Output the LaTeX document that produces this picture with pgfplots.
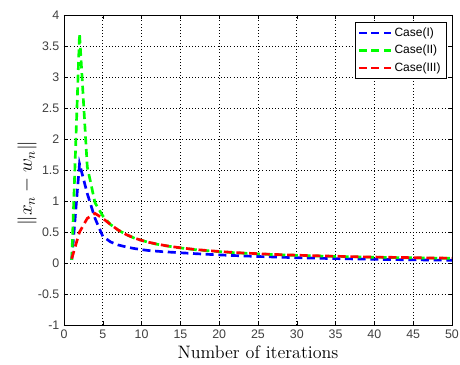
\documentclass[border=0pt]{standalone}
\usepackage{fontspec}
\setsansfont{Liberation Sans}
\usepackage{pgfplots}
\usepackage{pgfplotstable}
\pgfplotsset{compat=1.18}

\pgfplotstableread{
n  a      b      c
1  0.05   0.05   0.07
2  1.60   3.70   0.50
3  1.12   1.55   0.72
4  0.72   0.97   0.80
5  0.43   0.76   0.72
6  0.34   0.62   0.62
7  0.29   0.53   0.53
8  0.26   0.46   0.46
9  0.235  0.405  0.405
10 0.215  0.365  0.365
11 0.200  0.330  0.332
12 0.190  0.302  0.305
13 0.180  0.280  0.282
14 0.173  0.260  0.262
15 0.165  0.243  0.246
16 0.158  0.228  0.231
17 0.150  0.214  0.217
18 0.143  0.203  0.206
19 0.137  0.193  0.196
20 0.131  0.183  0.186
21 0.125  0.174  0.177
22 0.120  0.166  0.169
23 0.115  0.159  0.162
24 0.110  0.153  0.156
25 0.105  0.147  0.150
26 0.101  0.141  0.144
27 0.097  0.136  0.139
28 0.093  0.131  0.134
29 0.089  0.127  0.130
30 0.085  0.123  0.126
31 0.082  0.119  0.122
32 0.079  0.115  0.118
33 0.076  0.112  0.115
34 0.073  0.109  0.112
35 0.071  0.106  0.109
36 0.068  0.103  0.106
37 0.066  0.100  0.103
38 0.064  0.098  0.101
39 0.062  0.095  0.098
40 0.060  0.093  0.096
41 0.058  0.091  0.094
42 0.056  0.089  0.092
43 0.054  0.087  0.090
44 0.053  0.085  0.088
45 0.051  0.083  0.086
46 0.050  0.081  0.084
47 0.049  0.079  0.082
48 0.047  0.078  0.081
49 0.046  0.076  0.079
50 0.045  0.075  0.078
}\datatable

\begin{document}
\begin{tikzpicture}
\begin{axis}[
  scale only axis,
  width=291pt, height=232.5pt,
  xmin=0, xmax=50, ymin=-1, ymax=4,
  xtick={0,5,...,50},
  ytick={-1,-0.5,0,0.5,1,1.5,2,2.5,3,3.5,4},
  yticklabels={-1,-0.5,0,0.5,1,1.5,2,2.5,3,3.5,4},
  xticklabels={0,5,10,15,20,25,30,35,40,45,50},
  tick align=inside,
  major tick length=3pt,
  tick style={black, line width=0.4pt},
  axis line style={line width=0.5pt},
  grid=major,
  major grid style={dotted, black, line width=0.5pt},
  ticklabel style={font=\sffamily\fontsize{9.3}{10}\selectfont, color=black!75},
  /pgf/number format/assume math mode=true,
  xlabel={Number of iterations},
  ylabel={$\|x_n - w_n\|$},
  xlabel style={font=\fontsize{13.5}{15}\selectfont, yshift=1.5pt},
  ylabel style={font=\fontsize{14.5}{16}\selectfont, yshift=-6pt, xshift=-10pt},
  legend style={at={(0.985,0.977)}, anchor=north east, draw=black, line width=0.5pt,
    font=\sffamily\fontsize{9}{10}\selectfont, row sep=1pt, inner sep=2pt,
    cells={anchor=west}},
  legend image code/.code={\draw[#1, line width=1.6pt] (0pt,0pt) -- (24pt,0pt);},
  every axis plot/.append style={line width=2pt, dash pattern=on 6pt off 3.5pt},
]
\addplot[blue] table[x=n, y=a] {\datatable};
\addlegendentry{Case(I)}
\addplot[green] table[x=n, y=b] {\datatable};
\addlegendentry{Case(II)}
\addplot[red] table[x=n, y=c] {\datatable};
\addlegendentry{Case(III)}
\end{axis}
\pgfresetboundingbox
\path[use as bounding box] (-48pt,-29.25pt) rectangle (297pt,243.75pt);
\end{tikzpicture}
\end{document}
